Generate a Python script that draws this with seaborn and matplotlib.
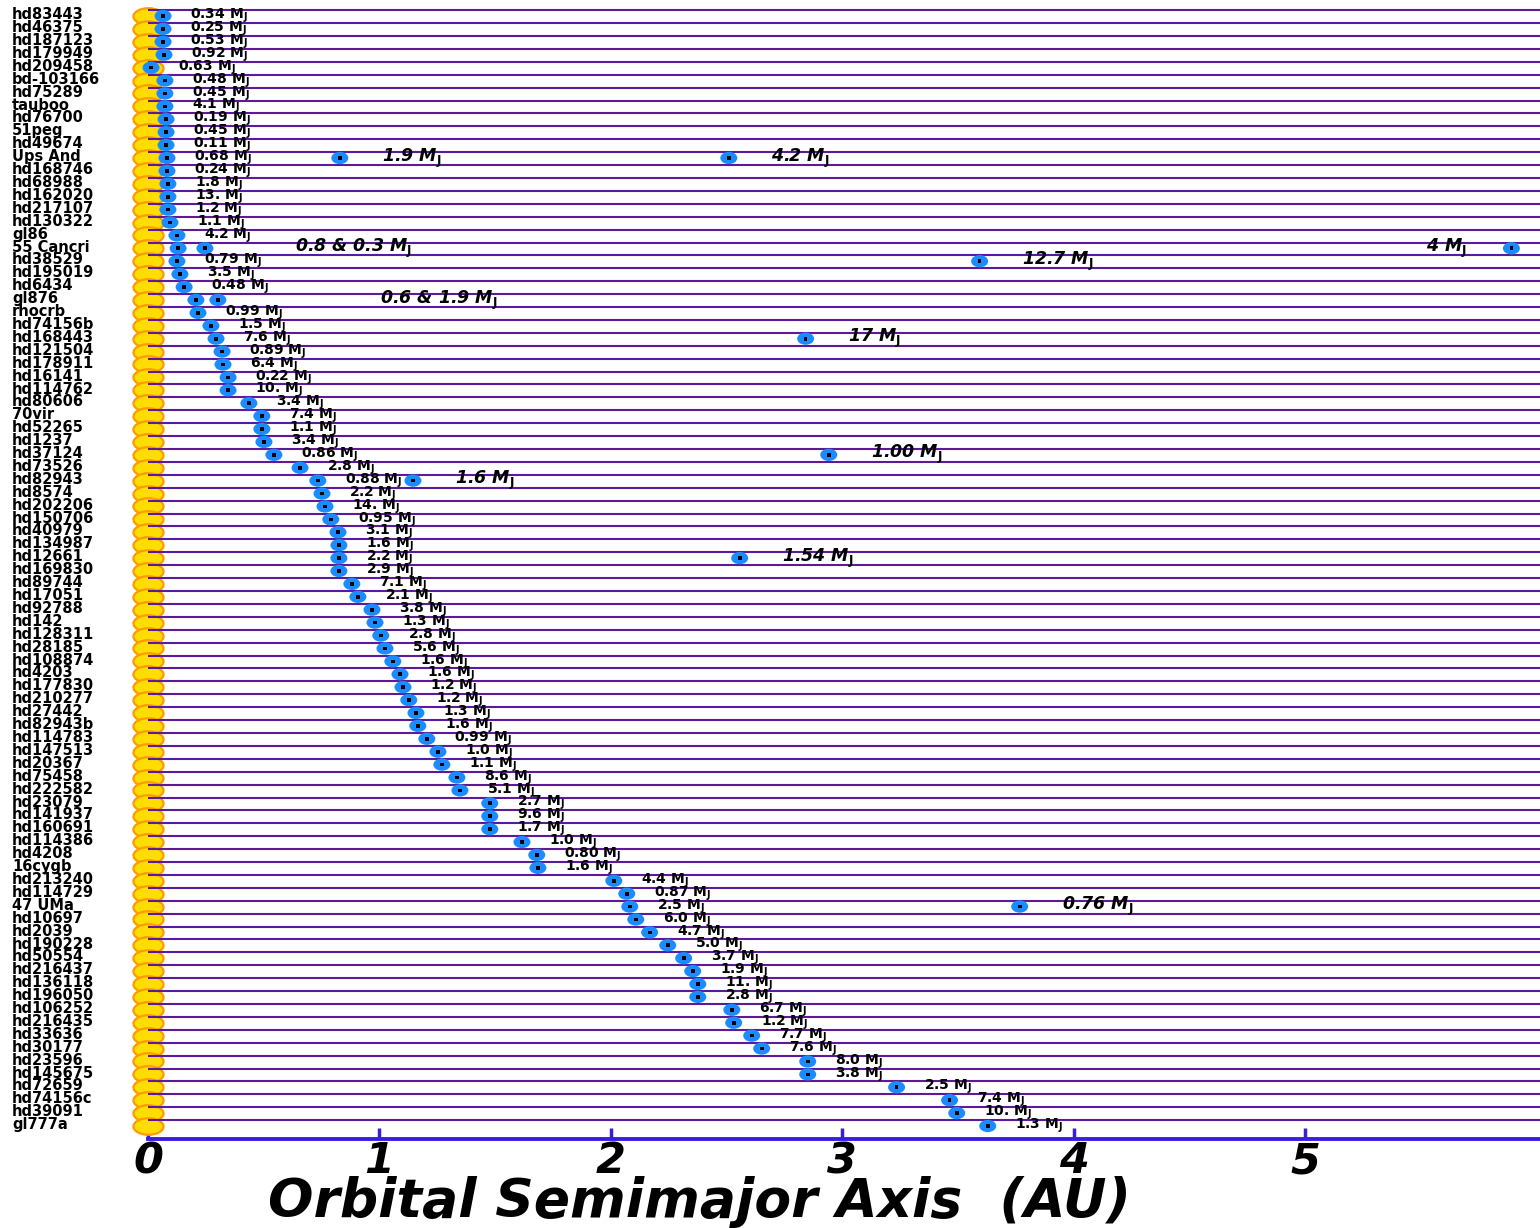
import numpy as np
import pandas as pd
import matplotlib
matplotlib.use("Agg")
import matplotlib.pyplot as plt
import matplotlib.font_manager as fm
from matplotlib.path import Path
from matplotlib.transforms import Affine2D, blended_transform_factory
import seaborn as sns

# ---------------- data ----------------
names = ["hd83443", "hd46375", "hd187123", "hd179949", "hd209458", "bd-103166", "hd75289",
         "tauboo", "hd76700", "51peg", "hd49674", "Ups And", "hd168746", "hd68988",
         "hd162020", "hd217107", "hd130322", "gl86", "55 Cancri", "hd38529", "hd195019",
         "hd6434", "gl876", "rhocrb", "hd74156b", "hd168443", "hd121504", "hd178911",
         "hd16141", "hd114762", "hd80606", "70vir", "hd52265", "hd1237", "hd37124",
         "hd73526", "hd82943", "hd8574", "hd202206", "hd150706", "hd40979", "hd134987",
         "hd12661", "hd169830", "hd89744", "hd17051", "hd92788", "hd142", "hd128311",
         "hd28185", "hd108874", "hd4203", "hd177830", "hd210277", "hd27442", "hd82943b",
         "hd114783", "hd147513", "hd20367", "hd75458", "hd222582", "hd23079", "hd141937",
         "hd160691", "hd114386", "hd4208", "16cygb", "hd213240", "hd114729", "47 UMa",
         "hd10697", "hd2039", "hd190228", "hd50554", "hd216437", "hd136118", "hd196050",
         "hd106252", "hd216435", "hd33636", "hd30177", "hd23596", "hd145675", "hd72659",
         "hd74156c", "hd39091", "gl777a"]

a_inner = [0.065, 0.065, 0.065, 0.069, 0.013, 0.073, 0.073, 0.073, 0.078, 0.078,
           0.078, 0.082, 0.082, 0.086, 0.086, 0.086, 0.095, 0.125, 0.130, 0.125,
           0.138, 0.156, 0.207, 0.216, 0.272, 0.294, 0.320, 0.324, 0.346, 0.346,
           0.436, 0.492, 0.492, 0.501, 0.544, 0.657, 0.734, 0.752, 0.765, 0.790,
           0.821, 0.825, 0.825, 0.825, 0.881, 0.907, 0.968, 0.981, 1.006, 1.024,
           1.058, 1.089, 1.102, 1.127, 1.158, 1.166, 1.205, 1.253, 1.270, 1.335,
           1.348, 1.477, 1.477, 1.477, 1.616, 1.680, 1.685, 2.013, 2.069, 2.082,
           2.108, 2.168, 2.246, 2.315, 2.354, 2.376, 2.376, 2.523, 2.531, 2.609,
           2.652, 2.851, 2.851, 3.235, 3.464, 3.495, 3.629]

m_inner = ["0.34", "0.25", "0.53", "0.92", "0.63", "0.48", "0.45", "4.1", "0.19", "0.45",
           "0.11", "0.68", "0.24", "1.8", "13.", "1.2", "1.1", "4.2", "", "0.79",
           "3.5", "0.48", "", "0.99", "1.5", "7.6", "0.89", "6.4", "0.22", "10.",
           "3.4", "7.4", "1.1", "3.4", "0.86", "2.8", "0.88", "2.2", "14.", "0.95",
           "3.1", "1.6", "2.2", "2.9", "7.1", "2.1", "3.8", "1.3", "2.8", "5.6",
           "1.6", "1.6", "1.2", "1.2", "1.3", "1.6", "0.99", "1.0", "1.1", "8.6",
           "5.1", "2.7", "9.6", "1.7", "1.0", "0.80", "1.6", "4.4", "0.87", "2.5",
           "6.0", "4.7", "5.0", "3.7", "1.9", "11.", "2.8", "6.7", "1.2", "7.7",
           "7.6", "8.0", "3.8", "2.5", "7.4", "10.", "1.3"]

extra_star = ["Ups And", "Ups And", "55 Cancri", "55 Cancri", "hd38529", "gl876",
              "hd168443", "hd37124", "hd82943", "hd12661", "47 UMa"]
extra_a = [0.829, 2.510, 0.246, 5.892, 3.594, 0.302, 2.842, 2.942, 1.145, 2.557, 3.767]
extra_m = ["1.9", "4.2", "0.8 & 0.3", "4", "12.7", "0.6 & 1.9", "17", "1.00", "1.6",
           "1.54", "0.76"]

xticks = [0, 1, 2, 3, 4, 5]
xlabel = "Orbital Semimajor Axis  (AU)"

# ---------------- styling ----------------
W, H = 1540, 1228
PX = 231.4           # pixels per AU
ROW = 12.907         # pixels per row
sns.set_theme(style="white")
plt.rcParams["font.family"] = ["DejaVu Sans"]
plt.rcParams["mathtext.fontset"] = "dejavusans"
plt.rcParams["text.color"] = "black"
plt.rcParams["xtick.color"] = "black"
plt.rcParams["axes.labelcolor"] = "black"

avail = {f.name for f in fm.fontManager.ttflist}
narrow = "Liberation Sans Narrow" if "Liberation Sans Narrow" in avail else "DejaVu Sans"

fig = plt.figure(figsize=(W / 100, H / 100), dpi=100)
ax = fig.add_axes([148 / W, (H - 1139) / H, (W - 148) / W, 1139 / H])

rows = np.arange(len(names))
row_of = {n: i for i, n in enumerate(names)}

stars = pd.DataFrame({"a": np.zeros(len(names)), "row": rows})
planets = pd.DataFrame({
    "a": list(a_inner) + list(extra_a),
    "row": list(rows) + [row_of[s] for s in extra_star],
})

ellipse_star = Path.unit_circle().transformed(Affine2D().scale(1.0, 0.55))
ellipse_pl = Path.unit_circle().transformed(Affine2D().scale(1.0, 0.72))

# orbit lines
ax.hlines(rows - 0.45, 0, (W - 148) / PX, color="#5b1a9e", lw=1.5, zorder=2)

sns.scatterplot(data=stars, x="a", y="row", marker=ellipse_star, s=470,
                color="#FFDD00", edgecolor="#FF9A00", linewidth=1.6,
                clip_on=False, zorder=1, ax=ax, legend=False)
sns.scatterplot(data=planets, x="a", y="row", marker=ellipse_pl, s=150,
                color="#1a8cff", edgecolor="none", zorder=3, ax=ax, legend=False,
                clip_on=False)
sns.scatterplot(data=planets, x="a", y="row", marker="s", s=7,
                color="black", edgecolor="none", zorder=4, ax=ax, legend=False,
                clip_on=False)

# star names
tr = blended_transform_factory(fig.transFigure, ax.transData)
for i, n in enumerate(names):
    ax.text(12 / W, i - 0.1, n, transform=tr, ha="left", va="center",
            fontsize=10.5, fontweight="bold", color="black", clip_on=False)

# inner masses
for i, (a, m) in enumerate(zip(a_inner, m_inner)):
    if m:
        ax.annotate(m + r" M$_{\mathbf{J}}$", (a, i), xytext=(27 * 0.72, 0),
                    textcoords="offset points", ha="left", va="center",
                    fontsize=10, fontweight="bold", color="black", zorder=5)

# outer planets / combined labels
shift = {"0.8 & 0.3": 90, "0.6 & 1.9": 162, "4": -44}
for s, a, m in zip(extra_star, extra_a, extra_m):
    dx = shift.get(m, 42)
    ax.annotate(m + r" M$_{\mathbf{J}}$", (a, row_of[s]), xytext=(dx * 0.72, 0),
                textcoords="offset points", ha="left" if dx > 0 else "right",
                va="center", fontsize=12.5, fontweight="bold", fontstyle="italic",
                color="black", zorder=5)

ax.set_xlim(0, (W - 148) / PX)
ax.set_ylim(1139 / ROW - 16 / ROW, -16 / ROW)
ax.set_yticks([])
ax.set_xticks(xticks)
ax.set_xticklabels([str(t) for t in xticks])
for lbl in ax.get_xticklabels():
    lbl.set_fontstyle("italic")
    lbl.set_fontweight("bold")
    lbl.set_fontsize(31)
    lbl.set_color("black")
    lbl.set_family([narrow, "DejaVu Sans"])
ax.tick_params(axis="x", direction="in", length=8, width=2.5, color="#3a1ee0",
               labelcolor="black", pad=1, bottom=True)
for side in ["top", "right", "left"]:
    ax.spines[side].set_visible(False)
ax.spines["bottom"].set_color("#3a1ee0")
ax.spines["bottom"].set_linewidth(2.8)
ax.set_xlabel("")
ax.set_ylabel("")
ax.patch.set_alpha(0)

fig.text(700 / W, 1 - 1202 / H, xlabel, ha="center", va="center",
         fontsize=38.5, fontweight="bold", fontstyle="italic", color="black",
         family=[narrow, "DejaVu Sans"])

fig.savefig("out.png", dpi=100)
